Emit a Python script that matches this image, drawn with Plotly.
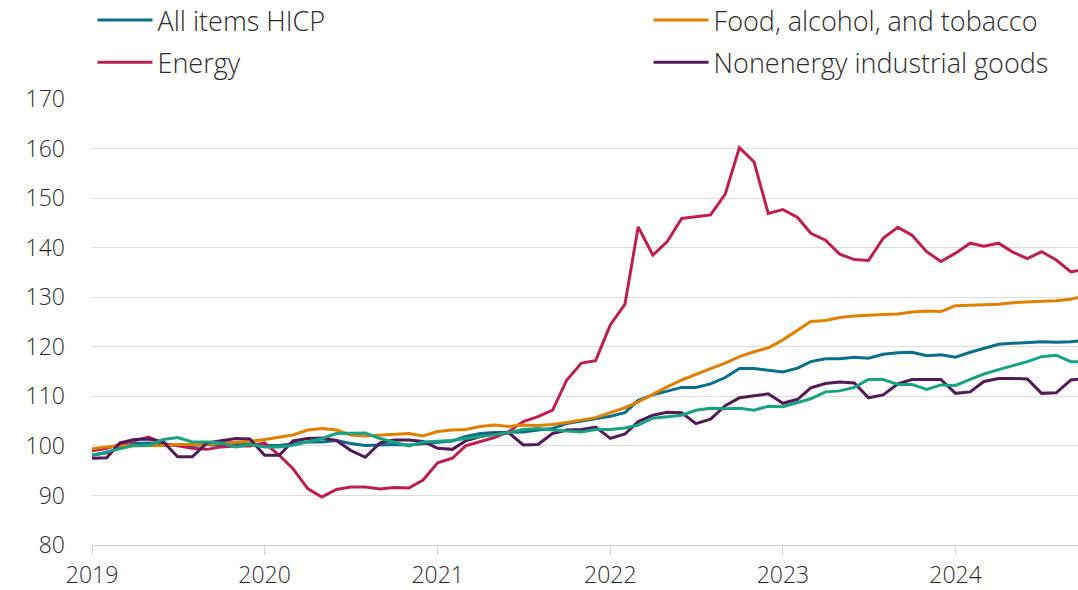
import pandas as pd
import plotly.graph_objects as go

months = pd.date_range("2019-01-01", periods=70, freq="MS")

all_items = [98.1, 98.6, 99.6, 100.5, 100.6, 100.3, 100.1, 100.1, 100.3, 100.1, 100.5, 100.3,
             100.1, 100.1, 100.5, 100.8, 100.8, 101.1, 100.5, 100.1, 100.2, 100.3, 100.2, 100.5,
             100.8, 101.0, 101.9, 102.5, 102.7, 102.7, 102.8, 103.2, 103.5, 104.5, 105.0, 105.5,
             106.0, 106.7, 109.2, 110.3, 111.0, 111.8, 111.8, 112.5, 113.8, 115.6, 115.6, 115.2,
             114.9, 115.7, 117.0, 117.6, 117.6, 117.9, 117.7, 118.5, 118.8, 118.9, 118.2, 118.4,
             117.9, 118.9, 119.6, 120.5, 120.7, 120.9, 121.0, 120.9, 121.0, 121.3]

food = [99.4, 99.8, 100.0, 100.0, 100.0, 100.1, 100.3, 100.3, 100.3, 100.6, 100.7, 100.9,
        101.3, 101.7, 102.2, 103.2, 103.5, 103.2, 102.2, 102.0, 102.2, 102.4, 102.5, 102.0,
        102.9, 103.2, 103.3, 103.9, 104.2, 103.9, 104.2, 104.1, 104.3, 104.7, 105.2, 105.7,
        106.7, 107.7, 108.9, 110.5, 111.9, 113.3, 114.5, 115.6, 116.7, 118.0, 119.0, 119.8,
        121.4, 123.4, 125.1, 125.3, 125.9, 126.2, 126.4, 126.5, 126.6, 127.0, 127.2, 127.1,
        128.3, 128.4, 128.4, 128.6, 128.9, 129.1, 129.2, 129.3, 129.6, 130.3]

energy = [99.0, 99.5, 100.3, 101.1, 101.8, 100.5, 100.0, 99.5, 99.3, 99.8, 100.0, 100.0,
          100.6, 98.1, 95.4, 91.4, 89.7, 91.2, 91.7, 91.7, 91.3, 91.6, 91.5, 93.1,
          96.6, 97.5, 100.0, 100.8, 101.7, 102.9, 104.9, 105.9, 107.2, 113.3, 116.7, 117.2,
          124.4, 128.6, 144.2, 138.5, 141.2, 145.9, 146.3, 146.6, 150.8, 160.2, 157.3, 146.9,
          147.7, 146.1, 142.9, 141.5, 138.7, 137.6, 137.4, 141.9, 144.1, 142.5, 139.2, 137.2,
          138.9, 140.9, 140.3, 140.9, 139.1, 137.8, 139.2, 137.5, 135.1, 135.7]

nonenergy = [97.5, 97.6, 100.6, 101.3, 101.4, 100.8, 97.8, 97.8, 100.6, 101.1, 101.5, 101.4,
             98.1, 98.1, 101.0, 101.5, 101.6, 101.1, 99.1, 97.7, 100.6, 101.2, 101.2, 100.9,
             99.5, 99.3, 101.0, 101.9, 102.5, 102.6, 100.2, 100.3, 102.5, 103.2, 103.3, 103.8,
             101.5, 102.4, 104.9, 106.2, 106.8, 106.7, 104.5, 105.4, 108.1, 109.7, 110.1, 110.5,
             108.6, 109.4, 111.7, 112.6, 112.9, 112.7, 109.7, 110.3, 112.5, 113.4, 113.4, 113.4,
             110.6, 110.9, 113.0, 113.6, 113.6, 113.5, 110.6, 110.7, 113.3, 113.6]

services = [98.1, 98.8, 99.5, 100.1, 100.1, 101.3, 101.7, 100.8, 100.8, 100.6, 99.8, 100.3,
            99.8, 99.8, 100.1, 100.8, 101.5, 102.5, 102.6, 102.6, 101.5, 100.8, 100.0, 100.8,
            101.0, 101.1, 101.5, 101.9, 102.4, 102.7, 103.3, 103.5, 103.2, 103.0, 102.8, 103.3,
            103.3, 103.6, 104.2, 105.6, 105.9, 106.2, 107.2, 107.6, 107.5, 107.6, 107.2, 108.0,
            107.9, 108.8, 109.5, 110.9, 111.1, 111.8, 113.4, 113.4, 112.4, 112.4, 111.4, 112.3,
            112.2, 113.4, 114.5, 115.4, 116.2, 117.0, 118.0, 118.3, 117.0, 117.0]

year_ticks = ["2019-01-01", "2020-01-01", "2021-01-01", "2022-01-01", "2023-01-01", "2024-01-01"]
year_labels = ["2019", "2020", "2021", "2022", "2023", "2024"]

FONT = "Open Sans"
TXT = "#2b2b2b"

fig = go.Figure()
series = [
    ("All items HICP", all_items, "#0a6f8a", "legend", True),
    ("Energy", energy, "#be1f52", "legend", True),
    ("Food, alcohol, and tobacco", food, "#e17f00", "legend2", True),
    ("Nonenergy industrial goods", nonenergy, "#521a58", "legend2", True),
    ("Services", services, "#17a283", "legend", False),
]
for name, vals, col, leg, show in series:
    fig.add_trace(go.Scatter(
        x=months, y=vals, name=name, mode="lines",
        line=dict(color=col, width=3),
        legend=leg, legendgroup=name, showlegend=show,
    ))

legend_common = dict(
    orientation="v", xanchor="left", yanchor="top",
    font=dict(family=FONT, size=27, color=TXT, weight=300),
    bgcolor="rgba(0,0,0,0)", itemwidth=55, tracegroupgap=4,
    xref="paper", yref="container", y=1.0,
)
fig.update_layout(
    width=1078, height=594,
    margin=dict(l=92, r=0, t=103, b=45),
    paper_bgcolor="white", plot_bgcolor="white",
    font=dict(family=FONT, size=23, color=TXT),
    legend=dict(x=0.0005, **legend_common),
    legend2=dict(x=0.5645, **legend_common),
    xaxis=dict(
        type="date",
        range=["2019-01-01", "2024-09-16"],
        tickvals=year_ticks, ticktext=year_labels,
        showgrid=False, showline=True, linecolor="#d0d0d0", linewidth=1,
        ticks="outside", ticklen=9, tickcolor="#d0d0d0", tickwidth=1,
        tickfont=dict(family=FONT, size=23, color=TXT, weight=300),
        zeroline=False, automargin=False,
    ),
    yaxis=dict(
        range=[80, 170], dtick=10, tick0=80,
        showgrid=True, gridcolor="#dcdcdc", gridwidth=1,
        zeroline=False, showline=False, ticks="",
        ticklabelstandoff=26, automargin=False,
        tickfont=dict(family=FONT, size=23, color=TXT, weight=300),
    ),
    showlegend=True,
)

fig.write_html(
    "out.html",
    config={"displayModeBar": False},
    post_script="document.body.style.margin='-4px 0 0 0';document.body.style.overflow='hidden';",
)
